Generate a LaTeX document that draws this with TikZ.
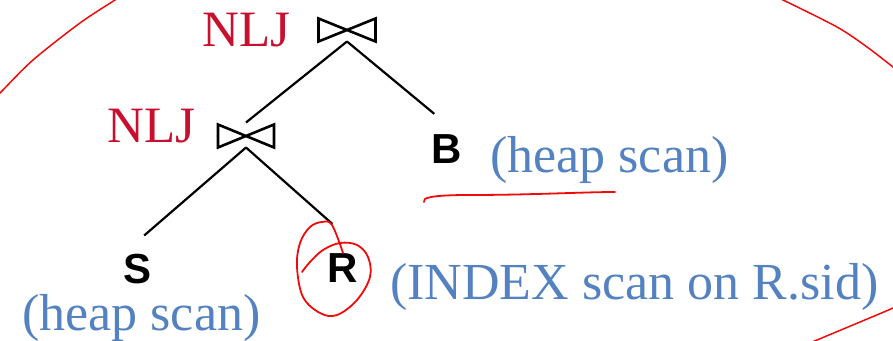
\documentclass[tikz,border=0pt]{standalone}
\usepackage{fontspec}
\setmainfont{Liberation Serif}
\newfontfamily\arialf{Liberation Sans}
\usetikzlibrary{calc}
\definecolor{nljred}{RGB}{200,16,46}
\definecolor{scanblue}{RGB}{84,130,192}
\definecolor{penred}{RGB}{240,10,10}
\begin{document}
\begin{tikzpicture}[x=1pt,y=1pt,
  bowtie/.style={minimum width=#1, minimum height=23, inner sep=0pt, outer sep=0pt},
  rel/.style={font=\arialf\bfseries\fontsize{42}{50}\selectfont, inner sep=0pt, anchor=base west},
  nlj/.style={text=nljred, font=\fontsize{51}{60}\selectfont, inner sep=0pt, anchor=base west},
  scan/.style={text=scanblue, font=\fontsize{52}{60}\selectfont, inner sep=0pt, anchor=base west},
  edge/.style={line width=2.2pt, black},
  tie/.style={line width=2.6pt, black, line join=miter},
  pen/.style={penred, line width=1.8pt, line cap=round, line join=round}]
\useasboundingbox (0,0) rectangle (893,340);
% large red loop (visible arcs only)
\begin{scope}
\clip (0,0) rectangle (893,340);
\draw[pen, line width=1.5pt] plot[smooth] coordinates {(-5,243) (0,247) (33,280) (80,317) (115,340) (121,344)};
\draw[pen, line width=1.5pt] plot[smooth] coordinates {(777,342) (783,340) (837,313) (867,293) (893,273) (898,269)};
\draw[pen, line width=1.5pt] plot[smooth] coordinates {(898,36) (893,32) (860,18) (817,0) (810,-3)};
\end{scope}
% join nodes
\node[bowtie=57] (j1) at (347,310) {};
\node[bowtie=56] (j2) at (246,204) {};
\draw[tie] (j1.north west) -- (j1.south east) -- (j1.north east) -- (j1.south west) -- cycle;
\draw[tie] (j2.north west) -- (j2.south east) -- (j2.north east) -- (j2.south west) -- cycle;
\node[nlj] (n1) at (202,293) {NLJ};
\node[nlj] (n2) at (107,197) {NLJ};
% relations
\node[rel] (B) at (431,176) {B};
\node[rel] (S) at (123,57) {S};
\node[rel] (R) at (327,58) {R};
% scan labels
\node[scan] (hB) at (490,167) {(heap scan)};
\node[scan] (hS) at (22,10) {(heap scan)};
\node[scan] (iR) at (390,41) {(INDEX scan on R.sid)};
% edges
\draw[edge] (j1.south) -- ([yshift=2pt]j2.north);
\draw[edge] (j1.south) -- ([shift={(-12,21)}]B.north);
\draw[edge] (j2.south) -- ([shift={(7,18)}]S.north);
\draw[edge] (j2.south) -- ([shift={(-10,29)}]R.north);
% pen annotations
\draw[pen] (424,138) .. controls (422,142) and (430,145) .. (470,145)
  .. controls (530,145) and (585,148) .. (615,148);
\draw[pen] plot[smooth, tension=0.6] coordinates {(343,87) (332,115) (322,118) (310,113) (300,97) (297,73) (303,43) (320,27) (337,25) (357,40) (370,63) (368,83) (357,95) (340,97) (323,90) (310,78) (302,68)};
\end{tikzpicture}
\end{document}
